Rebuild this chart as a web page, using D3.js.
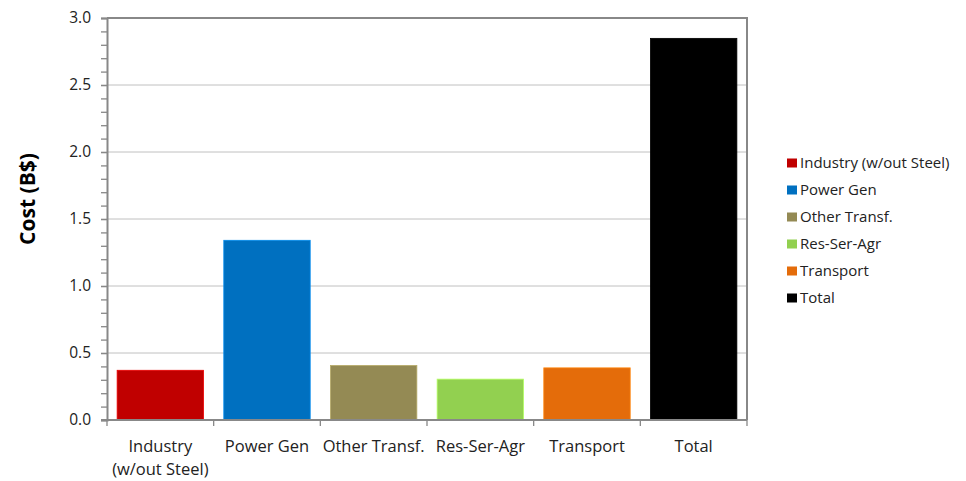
<!DOCTYPE html>
<html>
<head>
<meta charset="utf-8">
<script src="https://cdn.jsdelivr.net/npm/d3@7"></script>
<style>
  html, body { margin: 0; padding: 0; background: #fff; }
  svg { display: block; }
</style>
</head>
<body>
<svg id="chart" width="966" height="481"></svg>
<script>
// Cost by sector, billions of dollars
const categories = ["Industry (w/out Steel)", "Power Gen", "Other Transf.", "Res-Ser-Agr", "Transport", "Total"];
const axisLabels = [["Industry", "(w/out Steel)"], ["Power Gen"], ["Other Transf."], ["Res-Ser-Agr"], ["Transport"], ["Total"]];
const values = [0.371, 1.341, 0.407, 0.305, 0.389, 2.848];
const colors = ["#c00000", "#0070c0", "#948a54", "#92d050", "#e46c0a", "#000000"];
const yTicks = [0, 0.5, 1.0, 1.5, 2.0, 2.5, 3.0];
const yMinorTicks = d3.range(0, 31).map(i => i / 10);

const svg = d3.select("#chart");
const m = { left: 107, top: 18, right: 747, bottom: 420 };
const font = "'Open Sans', 'Liberation Sans', sans-serif";

const x = d3.scaleBand().domain(categories).range([m.left, m.right]).paddingInner(0.19).paddingOuter(0.095);
const xb = d3.scaleBand().domain(categories).range([m.left, m.right]).padding(0);
const y = d3.scaleLinear().domain([0, 3]).range([m.bottom, m.top]);

// horizontal gridlines
svg.append("g").selectAll("line").data(yTicks.filter(d => d > 0 && d < 3)).join("line")
  .attr("x1", m.left).attr("x2", m.right)
  .attr("y1", d => y(d)).attr("y2", d => y(d))
  .attr("stroke", "#c0c0c0").attr("stroke-width", 1);

// bars
svg.append("g").selectAll("rect").data(categories).join("rect")
  .attr("x", d => x(d))
  .attr("y", (d, i) => y(values[i]))
  .attr("width", x.bandwidth())
  .attr("height", (d, i) => y(0) - y(values[i]))
  .attr("fill", (d, i) => colors[i])
  .attr("stroke", (d, i) => d3.color(colors[i]).brighter(0.6))
  .attr("stroke-width", 0.8);

// plot frame (top and right)
svg.append("path")
  .attr("d", `M${m.left},${m.top}H${m.right}V${m.bottom}`)
  .attr("fill", "none").attr("stroke", "#888").attr("stroke-width", 2);

// y axis with minor ticks
const yMinor = d3.axisLeft(y).tickValues(yMinorTicks).tickSize(6).tickFormat("");
svg.append("g").attr("transform", `translate(${m.left},0)`).call(yMinor)
  .call(g => g.select(".domain").remove())
  .call(g => g.selectAll("line").attr("stroke", "#888").attr("stroke-width", 1.3));

const yAxis = d3.axisLeft(y).tickValues(yTicks).tickSize(6).tickPadding(10).tickFormat(d3.format(".1f"));
svg.append("g").attr("transform", `translate(${m.left},0)`).call(yAxis)
  .call(g => g.select(".domain").attr("stroke", "#888").attr("stroke-width", 2))
  .call(g => g.selectAll("line").attr("stroke", "#888").attr("stroke-width", 1.3))
  .call(g => g.selectAll("text").attr("font-family", font).attr("font-size", 15.5).attr("fill", "#222"));

// x axis: ticks at category boundaries
const bounds = categories.map(c => xb(c)).concat([m.right]);
svg.append("line").attr("x1", m.left - 6).attr("x2", m.right)
  .attr("y1", m.bottom).attr("y2", m.bottom).attr("stroke", "#888").attr("stroke-width", 2);
svg.append("g").selectAll("line").data(bounds).join("line")
  .attr("x1", d => d).attr("x2", d => d)
  .attr("y1", m.bottom).attr("y2", m.bottom + 6)
  .attr("stroke", "#888").attr("stroke-width", 1.3);

const xl = svg.append("g").selectAll("text").data(categories).join("text")
  .attr("x", d => xb(d) + xb.bandwidth() / 2)
  .attr("y", 452)
  .attr("text-anchor", "middle")
  .attr("font-family", font).attr("font-size", 16.5).attr("fill", "#222");
xl.each(function(d, i) {
  axisLabels[i].forEach((line, j) => {
    d3.select(this).append("tspan")
      .attr("x", xb(d) + xb.bandwidth() / 2)
      .attr("dy", j === 0 ? 0 : 23)
      .text(line);
  });
});

// y axis title
svg.append("text")
  .attr("transform", "translate(35,199) rotate(-90)")
  .attr("text-anchor", "middle")
  .attr("font-family", font).attr("font-size", 21).attr("font-weight", "bold").attr("fill", "#000")
  .text("Cost (B$)");

// legend
const legend = svg.append("g").selectAll("g").data(categories).join("g")
  .attr("transform", (d, i) => `translate(787,${163 + i * 27})`);
legend.append("rect").attr("x", 0).attr("y", -4.5).attr("width", 10).attr("height", 9)
  .attr("fill", (d, i) => colors[i]);
legend.append("text").attr("x", 13).attr("y", 0).attr("dy", "0.35em")
  .attr("font-family", font).attr("font-size", 15).attr("fill", "#222")
  .text(d => d);
</script>
</body>
</html>
